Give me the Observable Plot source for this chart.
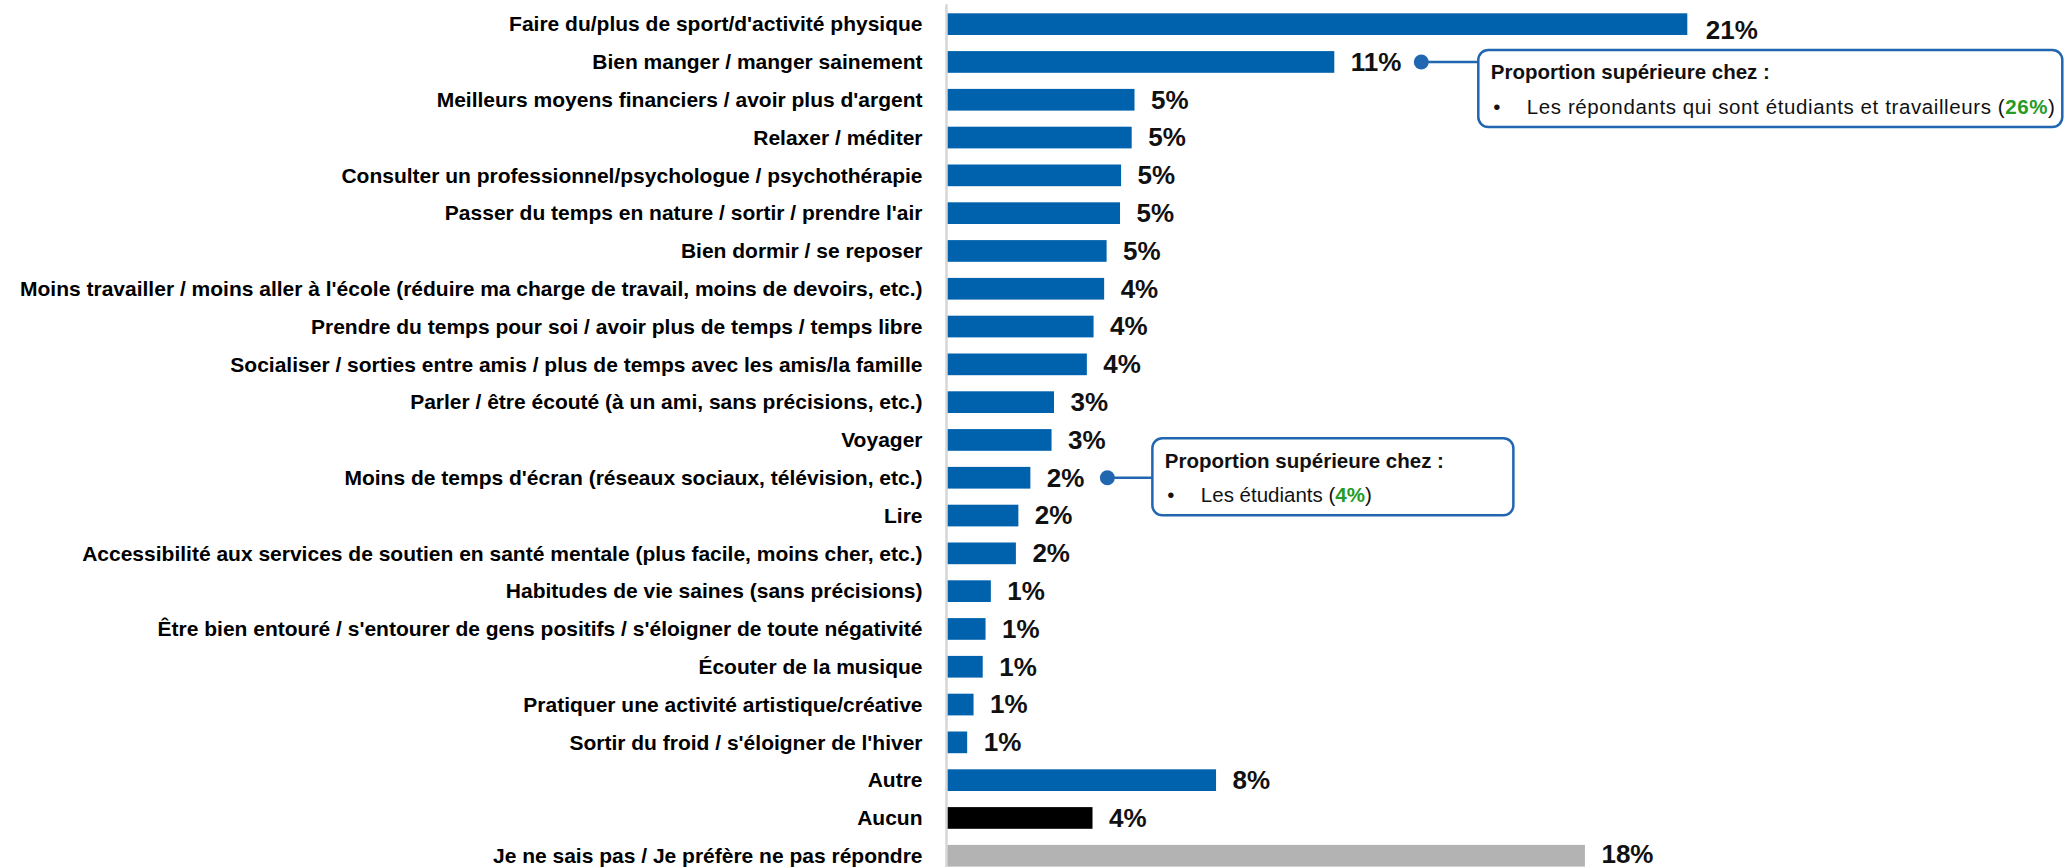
<!DOCTYPE html>
<html><head><meta charset="utf-8">
<script src="https://cdn.jsdelivr.net/npm/d3@7"></script>
<script src="https://cdn.jsdelivr.net/npm/@observablehq/plot@0.6"></script>
<style>html,body{margin:0;padding:0;background:#fff;overflow:hidden}</style>
</head><body><div id="chart"></div>
<script>
const categories = [
  "Faire du/plus de sport/d'activité physique",
  "Bien manger / manger sainement",
  "Meilleurs moyens financiers / avoir plus d'argent",
  "Relaxer / méditer",
  "Consulter un professionnel/psychologue / psychothérapie",
  "Passer du temps en nature / sortir / prendre l'air",
  "Bien dormir / se reposer",
  "Moins travailler / moins aller à l'école (réduire ma charge de travail, moins de devoirs, etc.)",
  "Prendre du temps pour soi / avoir plus de temps / temps libre",
  "Socialiser / sorties entre amis / plus de temps avec les amis/la famille",
  "Parler / être écouté (à un ami, sans précisions, etc.)",
  "Voyager",
  "Moins de temps d'écran (réseaux sociaux, télévision, etc.)",
  "Lire",
  "Accessibilité aux services de soutien en santé mentale (plus facile, moins cher, etc.)",
  "Habitudes de vie saines (sans précisions)",
  "Être bien entouré / s'entourer de gens positifs / s'éloigner de toute négativité",
  "Écouter de la musique",
  "Pratiquer une activité artistique/créative",
  "Sortir du froid / s'éloigner de l'hiver",
  "Autre",
  "Aucun",
  "Je ne sais pas / Je préfère ne pas répondre"
];
const values = [21.0, 11.0, 5.34, 5.26, 4.96, 4.93, 4.55, 4.48, 4.18, 3.99, 3.06, 2.99, 2.39, 2.05, 1.98, 1.27, 1.12, 1.04, 0.78, 0.60, 7.65, 4.15, 18.1];
const labels = ["21%","11%","5%","5%","5%","5%","5%","4%","4%","4%","3%","3%","2%","2%","2%","1%","1%","1%","1%","1%","8%","4%","18%"];
const kinds = ["r","r","r","r","r","r","r","r","r","r","r","r","r","r","r","r","r","r","r","r","r","none","nsp"];

const calloutCategories = ["Bien manger / manger sainement", "Moins de temps d'écran (réseaux sociaux, télévision, etc.)"];
const calloutTitles = ["Proportion supérieure chez :", "Proportion supérieure chez :"];
const calloutTexts = ["Les répondants qui sont étudiants et travailleurs (", "Les étudiants ("];
const calloutValues = ["26%", "4%"];

const rows = categories.map((c, i) => ({category: c, value: values[i], label: labels[i], kind: kinds[i]}));

const BLUE = "#0062ad", BORDER = "#2166b0", GREEN = "#249b24";
const fillOf = {r: BLUE, none: "#000000", nsp: "#b3b3b3"};
const layout = [
  {dotDx: 87, boxDx: 57, boxDy: -12, boxW: 584, boxH: 77, spacing: 0.6},
  {dotDx: 77, boxDx: 45, boxDy: -39.5, boxW: 361, boxH: 77, spacing: 0}
];

function calloutMark(index, scales) {
  const x = scales.x, y = scales.y;
  let bw = 0;
  if (typeof y.bandwidth === "function") bw = y.bandwidth();
  else if (scales.scales && scales.scales.y) bw = scales.scales.y.bandwidth || 0;
  const g = d3.create("svg:g")
    .attr("font-family", "'Liberation Sans', Arial, sans-serif")
    .attr("font-size", 20.5)
    .attr("text-anchor", "start")
    .style("text-anchor", "start");
  calloutCategories.forEach((cat, i) => {
    const k = categories.indexOf(cat);
    const L = layout[i];
    const cy = y(cat) + bw / 2;
    const dxp = x(values[k]) + L.dotDx;
    const bx = dxp + L.boxDx, by = cy + L.boxDy;
    g.append("line").attr("x1", dxp).attr("x2", bx).attr("y1", cy).attr("y2", cy)
      .attr("stroke", BORDER).attr("stroke-width", 2.5);
    g.append("circle").attr("cx", dxp).attr("cy", cy).attr("r", 7.5).attr("fill", BORDER);
    g.append("rect").attr("x", bx).attr("y", by).attr("width", L.boxW).attr("height", L.boxH)
      .attr("rx", 10).attr("fill", "#fff").attr("stroke", BORDER).attr("stroke-width", 2.5);
    g.append("text").attr("x", bx + 12.5).attr("y", by + 29.5).attr("font-weight", "bold")
      .attr("text-anchor", "start").attr("fill", "#111").text(calloutTitles[i]);
    g.append("text").attr("x", bx + 15).attr("y", by + 64).attr("text-anchor", "start")
      .attr("fill", "#111").text("•");
    const t = g.append("text").attr("x", bx + 48.5).attr("y", by + 64)
      .attr("text-anchor", "start").attr("letter-spacing", L.spacing).attr("fill", "#111");
    t.append("tspan").text(calloutTexts[i]);
    t.append("tspan").attr("fill", GREEN).attr("font-weight", "bold").text(calloutValues[i]);
    t.append("tspan").text(")");
  });
  return g.node();
}

const plot = Plot.plot({
  width: 2065,
  height: 867,
  marginLeft: 946,
  marginRight: 60,
  marginTop: -2.8,
  marginBottom: -15.7,
  style: {background: "#fff", overflow: "hidden"},
  x: {domain: [0, 30], axis: null},
  y: {domain: categories, padding: 0.426, round: false, label: null},
  marks: [
    Plot.barX(rows, {x: "value", y: "category", fill: d => fillOf[d.kind]}),
    Plot.ruleX([0], {stroke: "#d6d6d6", strokeWidth: 2.5, insetTop: 7}),
    Plot.axisY({tickSize: 0, tickPadding: 24, label: null, fontSize: 21, fontWeight: "bold",
      fontFamily: "'Liberation Sans Narrow', 'Arial Narrow', sans-serif", fill: "#000"}),
    Plot.text(rows, {filter: (d, i) => i === 0, x: "value", y: "category", text: "label", dx: 18, dy: 6,
      textAnchor: "start", fontSize: 26, fontWeight: "bold", fontFamily: "'Liberation Sans', Arial, sans-serif", fill: "#111"}),
    Plot.text(rows, {filter: (d, i) => i !== 0 && i !== rows.length - 1, x: "value", y: "category", text: "label", dx: 16,
      textAnchor: "start", fontSize: 26, fontWeight: "bold", fontFamily: "'Liberation Sans', Arial, sans-serif", fill: "#111"}),
    Plot.text(rows, {filter: (d, i) => i === rows.length - 1, x: "value", y: "category", text: "label", dx: 16, dy: -2,
      textAnchor: "start", fontSize: 26, fontWeight: "bold", fontFamily: "'Liberation Sans', Arial, sans-serif", fill: "#111"}),
    calloutMark
  ]
});
document.getElementById("chart").appendChild(plot);
</script>
</body></html>
